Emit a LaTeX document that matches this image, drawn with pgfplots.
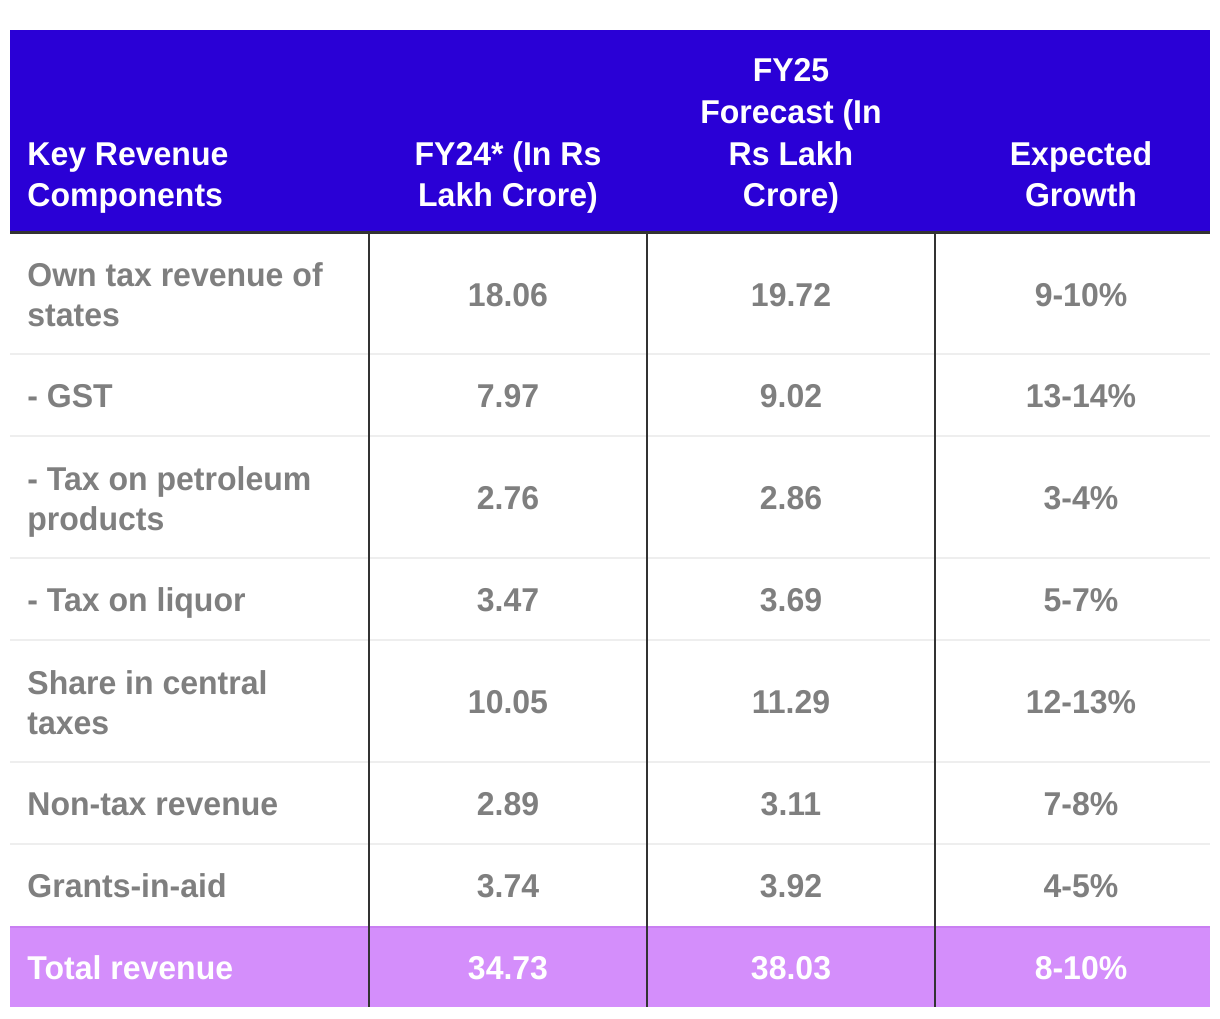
\documentclass[border=0pt]{standalone}
\usepackage{pgfplots}
\usepackage{pgfplotstable}
\pgfplotsset{compat=1.18}
\usepackage{fontspec}
\setmainfont{Liberation Sans}[FakeStretch=0.97]
\definecolor{hdr}{HTML}{2A00D6}
\definecolor{tot}{HTML}{D48EFB}
\definecolor{totline}{HTML}{C97FF2}
\definecolor{txt}{HTML}{7F7F7F}
\definecolor{vline}{HTML}{333333}
\definecolor{hline}{HTML}{EEEEEE}

\pgfplotstableread[col sep=comma]{
base,fy24,fy25,growth
306,18.06,19.72,9-10
407,7.97,9.02,13-14
509.5,2.76,2.86,3-4
611,3.47,3.69,5-7
713.5,10.05,11.29,12-13
815,2.89,3.11,7-8
897,3.74,3.92,4-5
}\revtable

\pgfplotstableread[col sep=comma]{
base,fy24,fy25,growth
979,34.73,38.03,8-10
}\totaltable

\newcommand{\cellfont}{\bfseries\fontsize{16.5}{19}\selectfont}

\begin{document}
\begin{tikzpicture}
\begin{axis}[
  width=610pt, height=509pt, scale only axis,
  xmin=0, xmax=1220, ymin=0, ymax=1018, y dir=reverse,
  axis lines=none, clip=false,
  every node near coord/.append style={anchor=base, inner sep=0pt, font=\cellfont},
]
% background
\fill[white] (axis cs:0,0) rectangle (axis cs:1220,1018);
% header
\fill[hdr] (axis cs:10,30) rectangle (axis cs:1210,232);
% total row
\fill[tot] (axis cs:10,926) rectangle (axis cs:1210,1007);
\draw[totline, line width=1pt] (axis cs:10,926.5) -- (axis cs:1210,926.5);
% row separators
\foreach \yy in {354,436,558,640,762,844} {
  \edef\temp{\noexpand\draw[hline, line width=1pt] (axis cs:10,\yy) -- (axis cs:1210,\yy);}
  \temp
}
% vertical separators
\foreach \xx in {369,647,935} {
  \edef\temp{\noexpand\draw[vline, line width=1pt] (axis cs:\xx,232) -- (axis cs:\xx,1007);}
  \temp
}
% header bottom line
\draw[vline, line width=1.5pt] (axis cs:10,232) -- (axis cs:1210,232);

% header texts
\begin{scope}[every node/.style={inner sep=0pt, font=\cellfont, text=white}]
\node[anchor=base west] at (axis cs:27,165) {Key Revenue};
\node[anchor=base west] at (axis cs:27,206) {Components};
\node[anchor=base] at (axis cs:508,165) {FY24* (In Rs};
\node[anchor=base] at (axis cs:508,206) {Lakh Crore)};
\node[anchor=base] at (axis cs:791,81) {FY25};
\node[anchor=base] at (axis cs:791,123) {Forecast (In};
\node[anchor=base] at (axis cs:791,165) {Rs Lakh};
\node[anchor=base] at (axis cs:791,206) {Crore)};
\node[anchor=base] at (axis cs:1081,165) {Expected};
\node[anchor=base] at (axis cs:1081,206) {Growth};
\end{scope}

% first column labels
\begin{scope}[every node/.style={inner sep=0pt, font=\cellfont, text=txt, anchor=base west}]
\node at (axis cs:27,286) {Own tax revenue of};
\node at (axis cs:27,326) {states};
\node at (axis cs:27,407) {- GST};
\node at (axis cs:27,490) {- Tax on petroleum};
\node at (axis cs:27,530) {products};
\node at (axis cs:27,611) {- Tax on liquor};
\node at (axis cs:27,694) {Share in central};
\node at (axis cs:27,734) {taxes};
\node at (axis cs:27,815) {Non-tax revenue};
\node at (axis cs:27,897) {Grants-in-aid};
\node[text=white] at (axis cs:27,979) {Total revenue};
\end{scope}

% values
\addplot[only marks, mark=none, nodes near coords, point meta=explicit symbolic,
  nodes near coords style={text=txt}]
  table[x expr=508, y=base, meta=fy24] {\revtable};
\addplot[only marks, mark=none, nodes near coords, point meta=explicit symbolic,
  nodes near coords style={text=txt}]
  table[x expr=791, y=base, meta=fy25] {\revtable};
\addplot[only marks, mark=none, nodes near coords={\pgfplotspointmeta\%}, point meta=explicit symbolic,
  nodes near coords style={text=txt}]
  table[x expr=1081, y=base, meta=growth] {\revtable};

\addplot[only marks, mark=none, nodes near coords, point meta=explicit symbolic,
  nodes near coords style={text=white}]
  table[x expr=508, y=base, meta=fy24] {\totaltable};
\addplot[only marks, mark=none, nodes near coords, point meta=explicit symbolic,
  nodes near coords style={text=white}]
  table[x expr=791, y=base, meta=fy25] {\totaltable};
\addplot[only marks, mark=none, nodes near coords={\pgfplotspointmeta\%}, point meta=explicit symbolic,
  nodes near coords style={text=white}]
  table[x expr=1081, y=base, meta=growth] {\totaltable};
\end{axis}
\end{tikzpicture}
\end{document}
